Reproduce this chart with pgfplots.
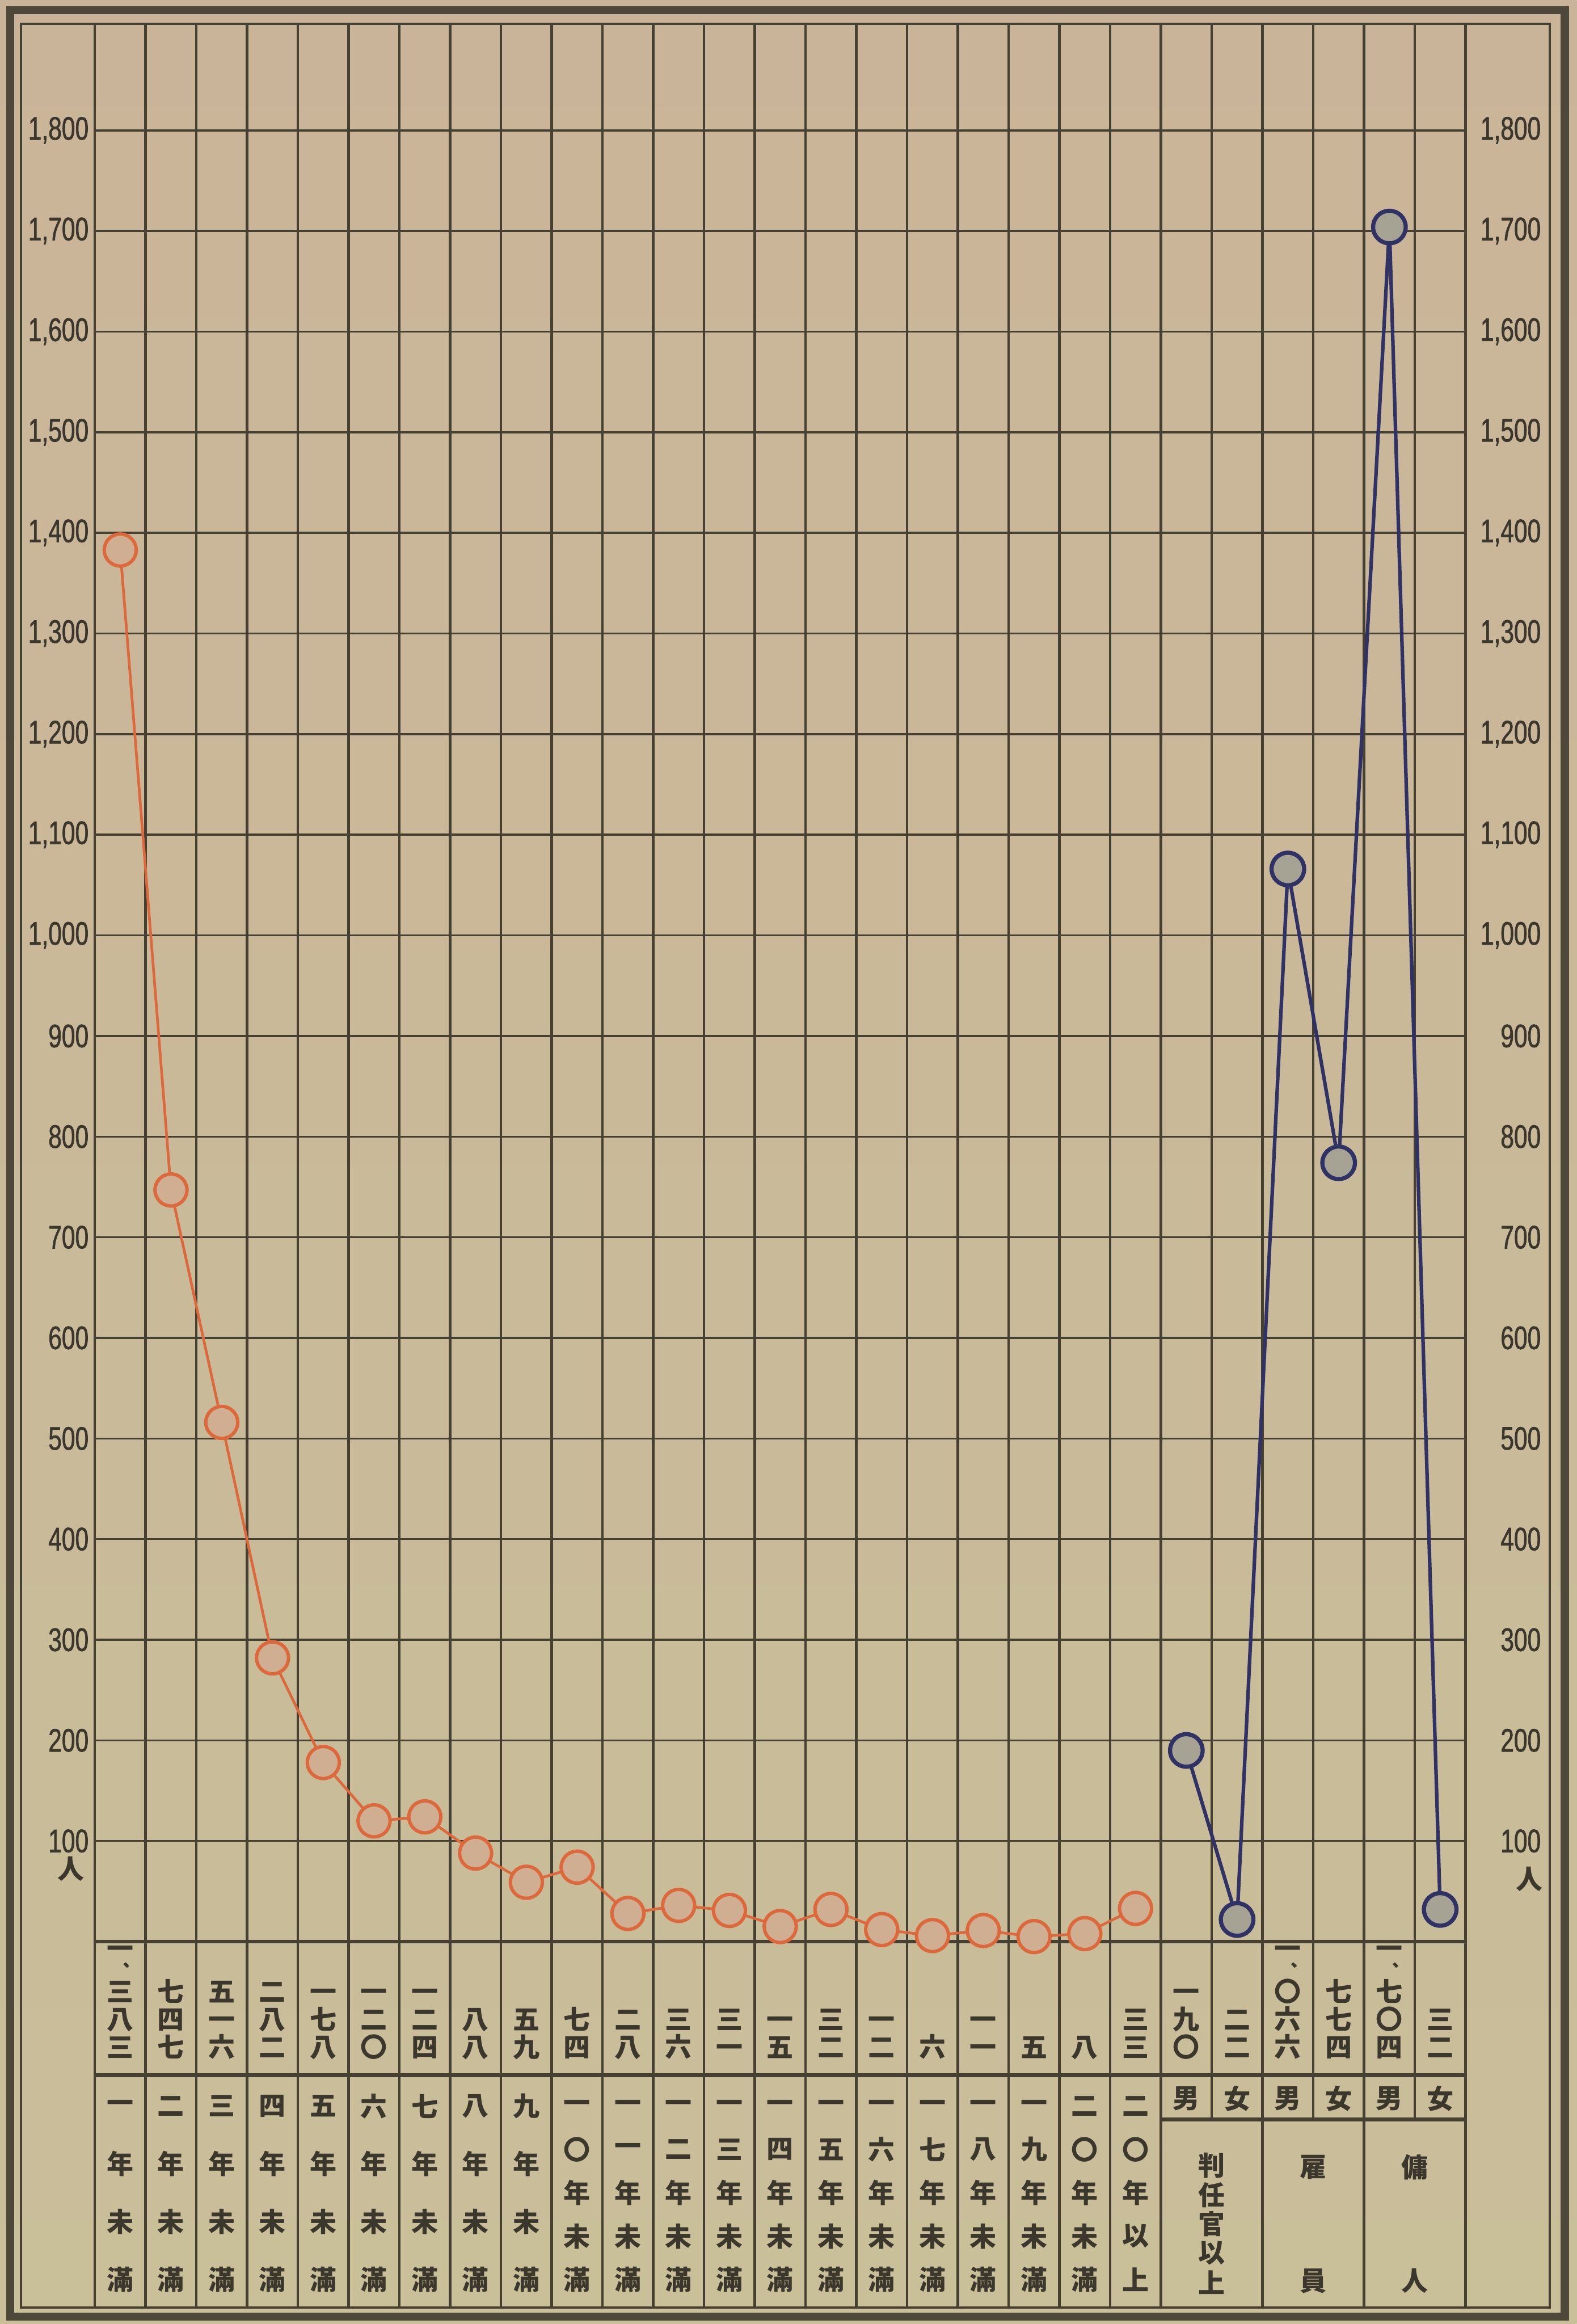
\documentclass[border=0pt]{standalone}
\usepackage{fontspec}
\usepackage{pgfplots}
\pgfplotsset{compat=1.18}
\newfontfamily\cjk{Noto Sans CJK JP}
\newfontfamily\cjkcomma[FakeBold=2.5]{Noto Sans CJK JP}
\newfontfamily\tickfont[FakeStretch=0.74,FakeBold=1.2]{Liberation Sans}
\definecolor{paperTop}{RGB}{202,180,153}
\definecolor{paperBot}{RGB}{201,191,153}
\definecolor{gridc}{RGB}{70,64,50}
\definecolor{inkc}{RGB}{60,55,45}
\definecolor{borderc}{RGB}{78,72,58}
\definecolor{orangeL}{RGB}{221,104,60}
\definecolor{ofill}{RGB}{208,174,146}
\definecolor{blueL}{RGB}{48,50,102}
\definecolor{bfill}{RGB}{166,162,148}

\tikzset{kj/.style={inner sep=0pt, text=inkc, font=\cjk\bfseries\fontsize{18}{18}\selectfont}}
% one vertical line of characters
\newcommand\kl[1]{\hbox to 18pt{\hss#1\hss}}
% vertical ideographic comma, set small between two characters
\newcommand\kcm{\vskip-7.2pt\hbox to 18pt{\hss\kern2pt{\cjkcomma\bfseries\fontsize{10.5}{10.5}\selectfont ︑}\hss}\vskip-1.6pt}
% number column: a single text node, bottom line on a fixed baseline
\newcommand\numstack[2]{%
  \node[kj,anchor=base] at (#1+0.5,-114.6)
   {\vbox{\baselineskip=18.8pt\lineskiplimit=-50pt\lineskip=0pt #2}};}
\newcommand\yrcol[3]{%
  \foreach \kchar [count=\k from 0] in {#3}{%
    \pgfmathsetmacro\yy{-163.5+\k*(-172.3)/(#2-1)}%
    \node[kj] at (#1+0.5,\yy) {\kchar};}}

\begin{document}
\begin{tikzpicture}
\begin{scope}[x=34.26pt,y=0.67889pt]
\shade[top color=paperTop,bottom color=paperBot] (-1.868,-380.0) rectangle (29.189,1929.6);
\draw[borderc,line width=5.5pt] (-1.664,-372.7) rectangle (28.955,1919.3);
\draw[gridc,line width=1.5pt] (-1.459,-363.8) rectangle (28.663,1906.1);
% grid
\foreach \v in {100,200,...,1800} \draw[gridc,line width=1.35pt] (0,\v) -- (27,\v);
\foreach \i in {0,...,21} \draw[gridc,line width=1.7pt] (\i,1906.1) -- (\i,-363.8);
\foreach \i in {23,25,27} \draw[gridc,line width=1.7pt] (\i,1906.1) -- (\i,-363.8);
\foreach \i in {22,24,26} \draw[gridc,line width=1.7pt] (\i,1906.1) -- (\i,-176.8);
\draw[gridc,line width=2.5pt] (0,0) -- (27,0);
\draw[gridc,line width=2.5pt] (0,-132.6) -- (27,-132.6);
\draw[gridc,line width=2.5pt] (21,-176.8) -- (27,-176.8);
% right tick labels
\foreach \v in {100,200,...,1800}
  \node[anchor=east,inner sep=0pt,text=inkc,font=\tickfont\fontsize{22}{22}\selectfont] at (28.488,\v)
   {\pgfmathprintnumber[1000 sep={,},assume math mode=true]{\v}};
\node[kj] at (-0.467,72) {人};
\node[kj] at (28.254,62) {人};
% numbers row (top to bottom)
\numstack{0}{\kl{一}\kcm\kl{三}\kl{八}\kl{三}}
\numstack{1}{\kl{七}\kl{四}\kl{七}}
\numstack{2}{\kl{五}\kl{一}\kl{六}}
\numstack{3}{\kl{二}\kl{八}\kl{二}}
\numstack{4}{\kl{一}\kl{七}\kl{八}}
\numstack{5}{\kl{一}\kl{二}\kl{〇}}
\numstack{6}{\kl{一}\kl{二}\kl{四}}
\numstack{7}{\kl{八}\kl{八}}
\numstack{8}{\kl{五}\kl{九}}
\numstack{9}{\kl{七}\kl{四}}
\numstack{10}{\kl{二}\kl{八}}
\numstack{11}{\kl{三}\kl{六}}
\numstack{12}{\kl{三}\kl{一}}
\numstack{13}{\kl{一}\kl{五}}
\numstack{14}{\kl{三}\kl{二}}
\numstack{15}{\kl{一}\kl{二}}
\numstack{16}{\kl{六}}
\numstack{17}{\kl{一}\kl{一}}
\numstack{18}{\kl{五}}
\numstack{19}{\kl{八}}
\numstack{20}{\kl{三}\kl{三}}
\numstack{21}{\kl{一}\kl{九}\kl{〇}}
\numstack{22}{\kl{二}\kl{二}}
\numstack{23}{\kl{一}\kcm\kl{〇}\kl{六}\kl{六}}
\numstack{24}{\kl{七}\kl{七}\kl{四}}
\numstack{25}{\kl{一}\kcm\kl{七}\kl{〇}\kl{四}}
\numstack{26}{\kl{三}\kl{二}}
% year labels
\foreach \d [count=\n from 0] in {一,二,三,四,五,六,七,八,九} {\yrcol{\n}{4}{\d,年,未,滿}}
\yrcol{9}{5}{一,〇,年,未,滿}
\foreach \d [count=\n from 10] in {一,二,三,四,五,六,七,八,九} {\yrcol{\n}{5}{一,\d,年,未,滿}}
\yrcol{19}{5}{二,〇,年,未,滿}
\yrcol{20}{5}{二,〇,年,以,上}
% sex row
\foreach \i in {21,23,25} \node[kj] at (\i+0.5,-156.1) {男};
\foreach \i in {22,24,26} \node[kj] at (\i+0.5,-156.1) {女};
% group labels
\node[kj] at (22,-222.4) {判};
\node[kj] at (22,-251.9) {任};
\node[kj] at (22,-280.6) {官};
\node[kj] at (22,-309.4) {以};
\node[kj] at (22,-338.8) {上};
\node[kj] at (24,-223.9) {雇};
\node[kj] at (24,-337.3) {員};
\node[kj] at (26,-223.9) {傭};
\node[kj] at (26,-337.3) {人};
\end{scope}
\begin{axis}[at={(0pt,0pt)},anchor=south west,scale only axis,
 width=925pt,height=1222pt,xmin=0,xmax=27,ymin=0,ymax=1800,clip=false,
 axis line style={draw=none},xtick=\empty,ytick={100,200,...,1800},
 major tick length=0pt,
 yticklabel style={font=\tickfont\fontsize{22}{22}\selectfont,text=inkc,inner sep=0pt,xshift=-4pt},
 /pgf/number format/assume math mode=true,
 /pgf/number format/1000 sep={,}]
\addplot[orangeL,line width=1.8pt,mark=*,mark size=10.8pt,
  mark options={fill=ofill,draw=orangeL,line width=2.3pt}]
 coordinates {(0.5,1383)(1.5,747)(2.5,516)(3.5,282)(4.5,178)(5.5,120)(6.5,124)
 (7.5,88)(8.5,59)(9.5,74)(10.5,28)(11.5,36)(12.5,31)(13.5,15)(14.5,32)(15.5,12)
 (16.5,6)(17.5,11)(18.5,5)(19.5,8)(20.5,33)};
\addplot[blueL,line width=2.4pt,mark=*,mark size=11pt,
  mark options={fill=bfill,draw=blueL,line width=2.8pt}]
 coordinates {(21.5,190)(22.5,22)(23.5,1066)(24.5,774)(25.5,1704)(26.5,32)};
\end{axis}
\end{tikzpicture}
\end{document}
